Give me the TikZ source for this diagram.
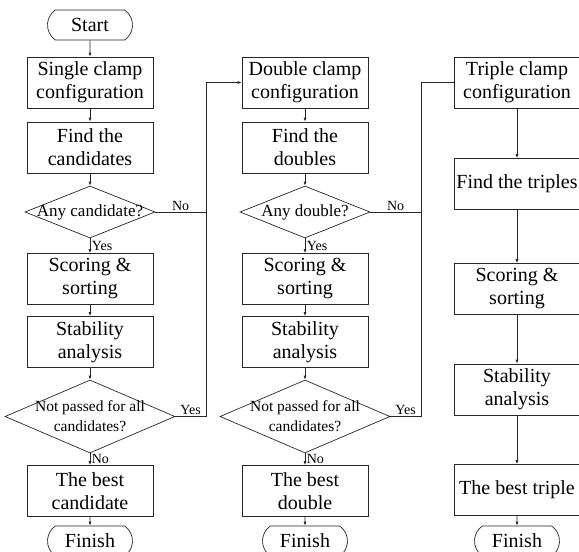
\documentclass[tikz,border=0pt]{standalone}
\usepackage{fontspec}
\setmainfont{Liberation Serif}
\usetikzlibrary{shapes.geometric,shapes.misc,arrows.meta}

\begin{document}
\begin{tikzpicture}
[   x=1pt,y=-1pt,
    box/.style={draw=black!85,line width=0.7pt,minimum width=126pt,minimum height=51pt,inner sep=1pt,align=center,font=\fontsize{20}{23}\selectfont},
    term/.style={draw=black!85,line width=0.7pt,rounded rectangle,rounded rectangle arc length=110,minimum width=85pt,minimum height=30pt,inner sep=0pt,font=\fontsize{20}{23}\selectfont},
    dec/.style 2 args={draw=black!85,line width=0.7pt,diamond,inner sep=0pt,minimum width=#1,minimum height=#2},
    dtext/.style={align=center,font=\fontsize{15.5}{20}\selectfont},
    ans/.style={font=\fontsize{14}{16}\selectfont,inner sep=1.5pt},
]
\tikzset{flow arrow/.style={draw=black!85,line width=0.7pt,-{Latex[length=4pt,width=3pt]}}}
\tikzset{flow line/.style={draw=black!85,line width=0.7pt}}
\useasboundingbox (0,0) rectangle (579,552);

\node[term] (start) at (90,25) {Start};

% columns for single and double clamps
\foreach \x/\name/\word in {1/Single/candidate,2/Double/double}
{
    \pgfmathsetmacro{\cx}{215*\x-125}
    \node[box] (c-\x) at (\cx,82.5) {\name\ clamp\\configuration};
    \node[box] (f-\x) at (\cx,147.5) {Find the\\\word s};
    \node[dec={130pt}{52pt}] (q-\x) at (\cx,212) {};
    \node[dtext,font=\fontsize{17}{20}\selectfont] (qt-\x) at (q-\x) {Any \word?};
    \node[box] (s-\x) at (\cx,279) {Scoring \&\\sorting};
    \node[box] (a-\x) at (\cx,342) {Stability\\analysis};
    \node[dec={170pt}{73pt}] (p-\x) at (\cx,416.5) {};
    \node[dtext] (pt-\x) at (p-\x) {Not passed for all\\candidates?};
    \node[box] (b-\x) at (\cx,491) {The best\\\word};
    \node[term] (e-\x) at (\cx,541) {Finish};
    \coordinate (j-\x) at (\cx+116,82.5);

    \path[flow arrow] (c-\x) -- (f-\x);
    \path[flow arrow] (f-\x) -- (q-\x);
    \path[flow arrow] (q-\x) -- node[ans,right]{Yes} (s-\x);
    \path[flow arrow] (s-\x) -- (a-\x);
    \path[flow arrow] (a-\x) -- (p-\x);
    \path[flow arrow] (p-\x) -- node[ans,right]{No} (b-\x);
    \path[flow arrow] (b-\x) -- (e-\x);
    \path[flow line] (q-\x.east) -| node[ans,above,pos=0.25]{No} (j-\x);
    \path[flow line] (p-\x.east) -| node[ans,above,pos=0.25]{Yes} (j-\x);
}
\path[flow arrow] (start) -- (c-1);

% triple clamps
\node[box] (c-3) at (517,82.5) {Triple clamp\\configuration};
\node[box] (f-3) at (517,184) {Find the triples};
\node[box] (s-3) at (517,289) {Scoring \&\\sorting};
\node[box] (a-3) at (517,389.5) {Stability\\analysis};
\node[box] (b-3) at (517,490) {The best triple};
\node[term] (e-3) at (517,541) {Finish};
\foreach \u/\v in {c-3/f-3,f-3/s-3,s-3/a-3,a-3/b-3,b-3/e-3}
    \path[flow arrow] (\u) -- (\v);

\path[flow arrow] (j-1) -- (c-2.west);
\path[flow line] (j-2) -- (c-3.west);
\end{tikzpicture}
\end{document}
